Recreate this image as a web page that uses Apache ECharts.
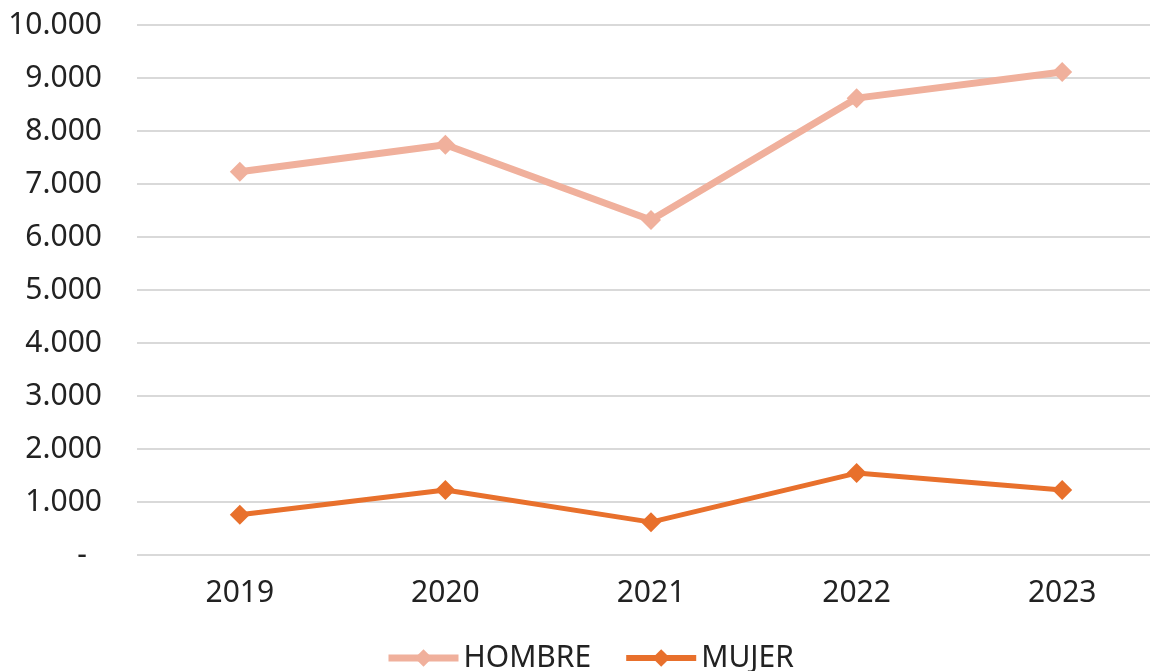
<!DOCTYPE html>
<html>
<head>
<meta charset="utf-8">
<script src="https://cdn.jsdelivr.net/npm/echarts@6/dist/echarts.min.js"></script>
<style>
  html, body { margin: 0; padding: 0; background: #fff; overflow: hidden; }
  /* el último hueco de categoría queda fuera de la imagen, como en el original */
  #chart-container { width: 1165px; height: 671px; }
</style>
</head>
<body>
<div id="chart-container"></div>
<script>
var years = ['2019', '2020', '2021', '2022', '2023'];
var hombre = [7230, 7740, 6320, 8620, 9115];
var mujer = [760, 1225, 620, 1545, 1225];

var fontName = '"Noto Sans", sans-serif';

function fmtMiles(v) {
	if (v === 0) return '-\u2002';
	return String(v).replace(/\B(?=(\d{3})+(?!\d))/g, '.');
}

var myChart = echarts.init(document.getElementById('chart-container'));
var option = {
	animation: false,
	backgroundColor: '#fff',
	grid: { left: 137, right: 0, top: 25, bottom: 116 },
	legend: {
		bottom: -7,
		left: 380,
		itemWidth: 70,
		itemHeight: 22,
		itemGap: 32,
		textStyle: { fontFamily: fontName, fontSize: 30, color: '#222' },
		data: [
			{ name: 'HOMBRE', lineStyle: { width: 7 } },
			{ name: 'MUJER', lineStyle: { width: 6 } }
		]
	},
	xAxis: {
		type: 'category',
		data: years,
		axisLine: { show: false },
		axisTick: { show: false },
		axisLabel: { fontFamily: fontName, fontSize: 30, color: '#222', margin: 23 }
	},
	yAxis: {
		type: 'value',
		min: 0,
		max: 10000,
		interval: 1000,
		axisLine: { show: false },
		axisTick: { show: false },
		splitLine: { lineStyle: { color: '#d9d9d9', width: 2 } },
		axisLabel: {
			fontFamily: fontName, fontSize: 30, color: '#222', margin: 35,
			formatter: fmtMiles
		}
	},
	series: [
		{
			name: 'HOMBRE',
			type: 'line',
			data: hombre,
			symbol: 'diamond',
			symbolSize: 20,
			color: '#F0B09C',
			lineStyle: { width: 7, color: '#F0B09C' },
			itemStyle: { color: '#F0B09C' }
		},
		{
			name: 'MUJER',
			type: 'line',
			data: mujer,
			symbol: 'diamond',
			symbolSize: 20,
			color: '#E8702C',
			lineStyle: { width: 5, color: '#E8702C' },
			itemStyle: { color: '#E8702C' }
		}
	]
};
myChart.setOption(option);
</script>
</body>
</html>
